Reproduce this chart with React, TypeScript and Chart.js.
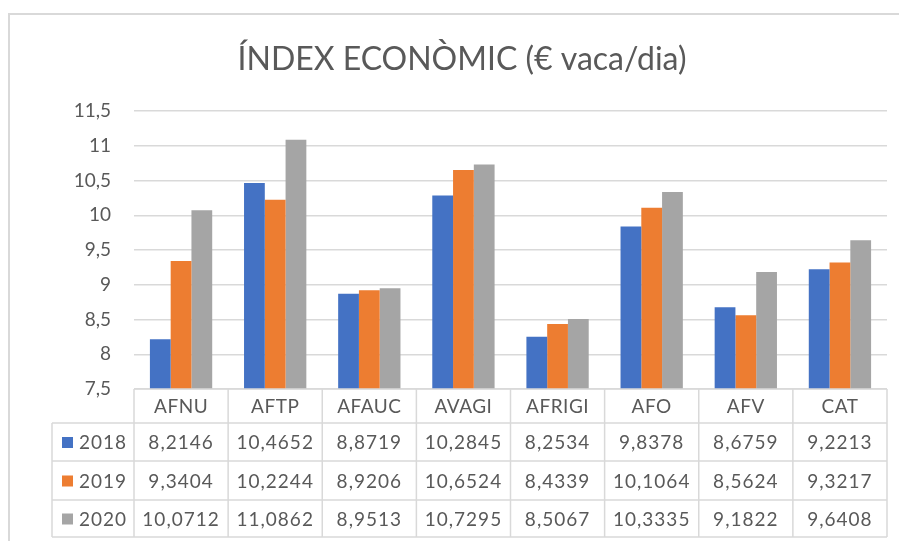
import React, { useEffect, useRef } from "react";
import { Chart, registerables } from "chart.js";

Chart.register(...registerables);

const categories = ["AFNU", "AFTP", "AFAUC", "AVAGI", "AFRIGI", "AFO", "AFV", "CAT"];
const seriesNames = ["2018", "2019", "2020"];
const values2018 = [8.2146, 10.4652, 8.8719, 10.2845, 8.2534, 9.8378, 8.6759, 9.2213];
const values2019 = [9.3404, 10.2244, 8.9206, 10.6524, 8.4339, 10.1064, 8.5624, 9.3217];
const values2020 = [10.0712, 11.0862, 8.9513, 10.7295, 8.5067, 10.3335, 9.1822, 9.6408];
const colors = ["#4472C4", "#ED7D31", "#A5A5A5"];
const titleText = "ÍNDEX ECONÒMIC (€ vaca/dia)";
const FONT = "Lato, 'Open Sans', sans-serif";
const TEXT = "#595959";
const LINE = "#d9d9d9";

const fmt = (v: number, d?: number) =>
  (d === undefined ? String(v) : v.toFixed(d)).replace(".", ",");

const decorPlugin = {
  id: "decor",
  beforeDraw(chart: any) {
    const ctx = chart.ctx;
    ctx.save();
    ctx.fillStyle = "#ffffff";
    ctx.fillRect(0, 0, chart.width, chart.height);
    ctx.strokeStyle = "#d9d9d9";
    ctx.lineWidth = 2;
    ctx.beginPath();
    ctx.moveTo(9, chart.height);
    ctx.lineTo(9, 14);
    ctx.lineTo(chart.width, 14);
    ctx.stroke();
    ctx.fillStyle = TEXT;
    ctx.font = `32px ${FONT}`;
    ctx.textAlign = "center";
    ctx.textBaseline = "middle";
    ctx.fillText(titleText, 462, 60);
    ctx.restore();
  },
  afterDraw(chart: any) {
    const ctx = chart.ctx;
    const area = chart.chartArea;
    const xs = chart.scales.x;
    const n = categories.length;
    const colW = (area.right - area.left) / n;
    const top = area.bottom;
    const rowsY = [top, top + 34, top + 72, top + 111, top + 148];
    const legendLeft = 52;
    ctx.save();
    ctx.strokeStyle = LINE;
    ctx.lineWidth = 1.5;
    ctx.beginPath();
    ctx.moveTo(area.left, rowsY[0]);
    ctx.lineTo(area.right, rowsY[0]);
    for (let r = 1; r < rowsY.length; r++) {
      ctx.moveTo(legendLeft, rowsY[r]);
      ctx.lineTo(area.right, rowsY[r]);
    }
    for (let i = 0; i <= n; i++) {
      const x = area.left + i * colW;
      ctx.moveTo(x, rowsY[0]);
      ctx.lineTo(x, rowsY[4]);
    }
    ctx.moveTo(legendLeft, rowsY[1]);
    ctx.lineTo(legendLeft, rowsY[4]);
    ctx.stroke();

    ctx.fillStyle = TEXT;
    ctx.font = `19px ${FONT}`;
    ctx.textAlign = "center";
    ctx.textBaseline = "middle";
    (ctx as any).letterSpacing = "0.5px";
    categories.forEach((c, i) => {
      const cx = xs.getPixelForValue(i);
      ctx.fillText(c, cx, (rowsY[0] + rowsY[1]) / 2 + 1);
    });
    (ctx as any).letterSpacing = "1px";
    const all = [values2018, values2019, values2020];
    all.forEach((arr, s) => {
      const cy = (rowsY[s + 1] + rowsY[s + 2]) / 2 + 1;
      arr.forEach((v, i) => {
        const cx = xs.getPixelForValue(i);
        ctx.fillText(fmt(v, 4), cx, cy);
      });
      ctx.fillStyle = colors[s];
      ctx.fillRect(62, cy - 6, 11, 11);
      ctx.fillStyle = TEXT;
      ctx.textAlign = "left";
      ctx.fillText(seriesNames[s], 79, cy);
      ctx.textAlign = "center";
    });
    (ctx as any).letterSpacing = "0px";
    ctx.restore();
  },
};

export default function App() {
  const ref = useRef<HTMLCanvasElement | null>(null);
  useEffect(() => {
    if (!ref.current) return;
    const chart = new Chart(ref.current, {
      type: "bar",
      data: {
        labels: categories,
        datasets: [
          { label: seriesNames[0], data: values2018, backgroundColor: colors[0] },
          { label: seriesNames[1], data: values2019, backgroundColor: colors[1] },
          { label: seriesNames[2], data: values2020, backgroundColor: colors[2] },
        ],
      },
      options: {
        animation: false,
        responsive: false,
        maintainAspectRatio: false,
        datasets: { bar: { categoryPercentage: 0.662, barPercentage: 1 } } as any,
        layout: { padding: { left: 0, right: 12, top: 111, bottom: 152 } },
        plugins: {
          legend: { display: false },
          title: { display: false },
          tooltip: { enabled: false },
        },
        scales: {
          x: {
            display: true,
            offset: true,
            grid: { display: false, drawTicks: false },
            border: { display: false },
            ticks: { display: false },
          },
          y: {
            min: 7.5,
            max: 11.5,
            afterFit: (scale: any) => {
              scale.width = 134;
            },
            ticks: {
              stepSize: 0.5,
              padding: 23,
              color: TEXT,
              font: { family: FONT, size: 19 },
              callback: (v: any) => fmt(Number(v)),
            },
            grid: { color: LINE, lineWidth: 1.5, drawTicks: false },
            border: { display: false },
          },
        },
      },
      plugins: [decorPlugin],
    });
    return () => chart.destroy();
  }, []);
  return (
    <div style={{ position: "absolute", left: 0, top: 0, width: 899, height: 541 }}>
      <canvas ref={ref} width={899} height={541} style={{ display: "block" }} />
    </div>
  );
}
